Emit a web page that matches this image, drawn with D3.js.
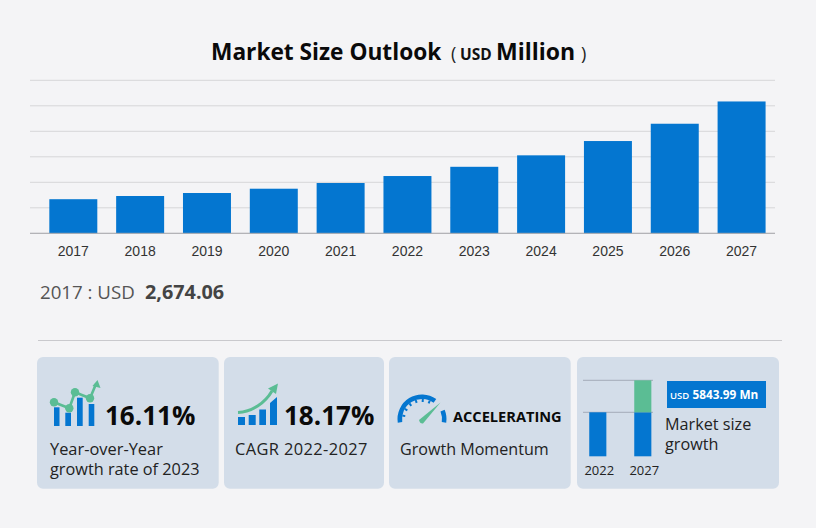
<!DOCTYPE html>
<html>
<head>
<meta charset="utf-8">
<script src="https://cdnjs.cloudflare.com/ajax/libs/d3/7.8.5/d3.min.js"></script>
<style>
  html, body { margin: 0; padding: 0; background: #f4f4f6; }
  svg { display: block; }
  text { font-family: "Open Sans", "Noto Sans", sans-serif; fill: #222; }
  .year text { font-family: "Liberation Sans", Arial, sans-serif; font-size: 14px; fill: #333; }
</style>
</head>
<body>
<div id="chart"></div>
<script>
// bars (grid step = 2000)
const years = ["2017","2018","2019","2020","2021","2022","2023","2024","2025","2026","2027"];
const marketSize = [2674.06,2925,3160,3497,3944,4492,5216,6115,7236,8593,10340];
const gridTicks = [0,2000,4000,6000,8000,10000,12000];

// mini bars in the last card, relative heights, not to scale with the big chart
const miniYears = ["2022","2027"];
const miniBase = [1,1];
const miniGrowth = [0,0.727];

const blue = "#0476d0", green = "#5bbd94", cardFill = "#d3dde9";

const svg = d3.select("#chart").append("svg").attr("width",816).attr("height",528);

// main chart
const x = d3.scaleBand().domain(years).range([39.9,775]).paddingInner(0.282).paddingOuter(0.141);
const y = d3.scaleLinear().domain([0,12000]).range([233.3,80.3]);

const grid = svg.append("g").attr("transform","translate(30,-0.5)")
  .call(d3.axisLeft(y).tickValues(gridTicks).tickSize(-745).tickFormat(""));
grid.select(".domain").remove();
grid.selectAll("line").attr("stroke","#d6d6d9").attr("stroke-width",1);

svg.selectAll(".bar").data(years).enter().append("rect")
  .attr("class","bar")
  .attr("x",d => x(d))
  .attr("y",(d,i) => y(marketSize[i]))
  .attr("width",x.bandwidth())
  .attr("height",(d,i) => y(0)-y(marketSize[i]))
  .attr("fill",blue);

svg.append("line").attr("x1",30).attr("x2",775).attr("y1",y(0)).attr("y2",y(0)).attr("stroke","#a9a9ad");

const xAxis = svg.append("g").attr("class","year").attr("transform",`translate(0,${y(0)})`)
  .call(d3.axisBottom(x).tickSize(0).tickPadding(13));
xAxis.select(".domain").remove();

// title
function label(px,py,str,size,weight,color,anchor) {
  return svg.append("text").attr("x",px).attr("y",py).text(str)
    .style("font-size",size+"px").style("font-weight",weight||400)
    .style("fill",color||"#222").attr("text-anchor",anchor||"start");
}
label(211,60,"Market Size Outlook",22.7,700,"#0a0a0a");
label(451,60,"(",18,400,"#222");
label(460,60,"USD",15.5,700,"#111");
label(496,60,"Million",23,700,"#0a0a0a");
label(581,60,")",18,400,"#222");

label(40,299,"2017 : USD",18.7,400,"#555");
label(145,299,d3.format(",.2f")(marketSize[0]),19.8,700,"#444");

svg.append("line").attr("x1",38).attr("x2",782).attr("y1",340.5).attr("y2",340.5).attr("stroke","#c9c9cd");

// cards
const cardX = [37,224,389,577], cardW = [181.7,160,181.7,202];
svg.selectAll(".card").data(cardX).enter().append("rect")
  .attr("class","card")
  .attr("x",d => d).attr("y",357)
  .attr("width",(d,i) => cardW[i]).attr("height",131.7)
  .attr("rx",6).attr("fill",cardFill);

// card 1 icon
const ic1 = svg.append("g");
[[54,407.3,5.5,18.7],[65.3,412.7,5.7,13.3],[77,397.7,5.7,28.3],[88.7,404,5.6,22]].forEach(b => {
  ic1.append("rect").attr("x",b[0]).attr("y",b[1]).attr("width",b[2]).attr("height",b[3]).attr("fill",blue);
});
const sparkPts = [[54,402.3],[69.3,408.3],[75,392.3],[90,398.3],[96,384]];
ic1.append("path").attr("d",d3.line()(sparkPts)).attr("fill","none").attr("stroke",green).attr("stroke-width",2.6);
sparkPts.slice(0,4).forEach(p => ic1.append("circle").attr("cx",p[0]).attr("cy",p[1]).attr("r",4.2).attr("fill",green));
ic1.append("path").attr("d","M97.5,380 L100.5,388 L92.5,386 Z").attr("fill",green);
label(105,425,"16.11%",26,700,"#0a0a0a");
label(50,455,"Year-over-Year",16.4,400,"#222");
label(50,475,"growth rate of 2023",16.3,400,"#222");

// card 2 icon
const ic2 = svg.append("g");
ic2.append("path").attr("d","M238,417 H245 V425 H238 Z M248.7,415 H255.7 V425 H248.7 Z M259.3,409.5 H266 V425 H259.3 Z M270,403 L277,397 V425 H270 Z").attr("fill",blue);
ic2.append("path").attr("d","M238,412.5 C252,412 265,403 272,391").attr("fill","none").attr("stroke",green).attr("stroke-width",3);
ic2.append("path").attr("d","M278,383.5 L276,394 L268,388.5 Z").attr("fill",green);
label(284,425,"18.17%",26,700,"#0a0a0a");
label(235,455,"CAGR 2022-2027",16.4,400,"#222").style("letter-spacing","0.4px");

// card 3 gauge
const ic3 = svg.append("g").attr("transform","translate(422,419)");
ic3.append("path").attr("d",d3.arc()({innerRadius:20,outerRadius:24.5,startAngle:-1.72,endAngle:0.62})).attr("fill",blue);
ic3.append("path").attr("d",d3.arc()({innerRadius:20,outerRadius:24.5,startAngle:1.18,endAngle:1.72})).attr("fill",blue);
d3.range(-1.4,0.6,0.36).forEach(a => {
  ic3.append("line").attr("x1",Math.sin(a)*20).attr("y1",-Math.cos(a)*20)
    .attr("x2",Math.sin(a)*17).attr("y2",-Math.cos(a)*17)
    .attr("stroke",blue).attr("stroke-width",2);
});
ic3.append("path").attr("d","M-3,1 L18.5,-16.5 L1,4.5 Q-2,5 -3,1 Z").attr("fill",green);
label(453,422,"ACCELERATING",14.6,700,"#0a0a0a");
label(400,455,"Growth Momentum",16.1,400,"#222");

// card 4 mini chart
const mx = d3.scaleBand().domain(miniYears).range([575.3,665.3]).paddingInner(0.62).paddingOuter(0.31);
const my = d3.scaleLinear().domain([0,1]).range([456.3,412.3]);
svg.selectAll(".mini-grid").data([1,1.727]).enter().append("line")
  .attr("class","mini-grid")
  .attr("x1",583).attr("x2",653).attr("y1",d => my(d)).attr("y2",d => my(d))
  .attr("stroke","#a4acb8");
svg.selectAll(".mini-base").data(miniYears).enter().append("rect")
  .attr("class","mini-base")
  .attr("x",d => mx(d)).attr("width",mx.bandwidth())
  .attr("y",(d,i) => my(miniBase[i])).attr("height",(d,i) => my(0)-my(miniBase[i]))
  .attr("fill",blue);
svg.selectAll(".mini-growth").data(miniYears).enter().append("rect")
  .attr("class","mini-growth")
  .attr("x",d => mx(d)).attr("width",mx.bandwidth())
  .attr("y",(d,i) => my(miniBase[i]+miniGrowth[i])).attr("height",(d,i) => my(miniBase[i])-my(miniBase[i]+miniGrowth[i]))
  .attr("fill",green);
miniYears.forEach(d => label(mx(d)+mx.bandwidth()/2+1.5,475,d,13,400,"#222","middle"));

svg.append("rect").attr("x",667).attr("y",381).attr("width",99).attr("height",27).attr("fill",blue);
label(670,399,"USD",9.5,600,"#fff");
label(692.5,399,"5843.99 Mn",11.8,700,"#fff");
label(665,430,"Market size",16.2,400,"#222");
label(665,450,"growth",16.2,400,"#222");
</script>
</body>
</html>
